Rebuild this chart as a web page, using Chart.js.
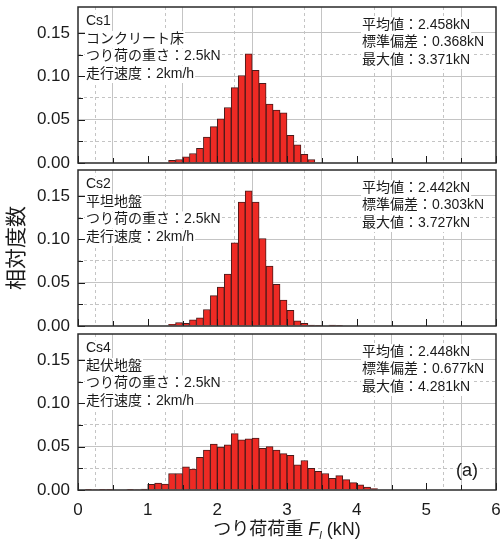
<!DOCTYPE html>
<html>
<head>
<meta charset="utf-8">
<script src="https://cdn.jsdelivr.net/npm/chart.js@4.4.1/dist/chart.umd.min.js"></script>
<style>
  body { margin: 0; background: #fff; }
  #wrap { position: relative; width: 501px; height: 544px; }
  canvas { position: absolute; left: 0; }
</style>
</head>
<body>
<div id="wrap">
  <canvas id="c1" width="501" height="175" style="top:0"></canvas>
  <canvas id="c2" width="501" height="175" style="top:163px"></canvas>
  <canvas id="c3" width="501" height="217" style="top:327px"></canvas>
</div>
<script>
// bin left edges (kN) and relative frequency per 0.1 kN bin
const cs1Bins = [1.3, 1.4, 1.5, 1.6, 1.7, 1.8, 1.9, 2.0, 2.1, 2.2, 2.3, 2.4, 2.5, 2.6, 2.7, 2.8, 2.9, 3.0, 3.1, 3.2, 3.3];
const cs1Freq = [0.003, 0.004, 0.007, 0.011, 0.017, 0.030, 0.042, 0.051, 0.064, 0.087, 0.101, 0.126, 0.107, 0.092, 0.068, 0.061, 0.058, 0.032, 0.021, 0.010, 0.004];

const cs2Bins = [1.3, 1.4, 1.5, 1.6, 1.7, 1.8, 1.9, 2.0, 2.1, 2.2, 2.3, 2.4, 2.5, 2.6, 2.7, 2.8, 2.9, 3.0, 3.1, 3.2, 3.3, 3.4, 3.5, 3.6, 3.7];
const cs2Freq = [0.002, 0.004, 0.003, 0.007, 0.0095, 0.019, 0.035, 0.045, 0.060, 0.096, 0.143, 0.156, 0.143, 0.101, 0.069, 0.048, 0.030, 0.018, 0.006, 0.003, 0.001, 0.0005, null, 0.001, 0.0005];

const cs4Bins = [0.1, 0.2, 0.3, 0.4, 0.5, 0.6, 0.7, 0.8, 0.9, 1.0, 1.1, 1.2, 1.3, 1.4, 1.5, 1.6, 1.7, 1.8, 1.9, 2.0, 2.1,
                 2.2, 2.3, 2.4, 2.5, 2.6, 2.7, 2.8, 2.9, 3.0, 3.1, 3.2, 3.3, 3.4, 3.5, 3.6, 3.7, 3.8, 3.9, 4.0, 4.1, 4.2];
const cs4Freq = [0.0008, 0.0006, 0.0004, 0.0004, null, null, 0.0004, 0.0006, 0.001, 0.0065, 0.008, 0.0068, 0.019, 0.019, 0.0266, 0.024, 0.0378, 0.046, 0.053, 0.0495, 0.052,
                 0.065, 0.058, 0.059, 0.060, 0.048, 0.050, 0.046, 0.042, 0.040, 0.029, 0.034, 0.025, 0.0215, 0.019, 0.0135, 0.0165, 0.012, 0.0085, 0.006, 0.0035, 0.0015];

const cs1Notes = ['Cs1', 'コンクリート床', 'つり荷の重さ：2.5kN', '走行速度：2km/h'];
const cs1Stats = ['平均値：2.458kN', '標準偏差：0.368kN', '最大値：3.371kN'];
const cs2Notes = ['Cs2', '平坦地盤', 'つり荷の重さ：2.5kN', '走行速度：2km/h'];
const cs2Stats = ['平均値：2.442kN', '標準偏差：0.303kN', '最大値：3.727kN'];
const cs4Notes = ['Cs4', '起伏地盤', 'つり荷の重さ：2.5kN', '走行速度：2km/h'];
const cs4Stats = ['平均値：2.448kN', '標準偏差：0.677kN', '最大値：4.281kN'];

const yTitle = '相対度数';
const xTitle = [['つり荷荷重 ', 'n'], ['F', 'i'], ['l', 's'], [' (kN)', 'n']];

const FONT = '"Liberation Sans", "Noto Sans CJK JP", sans-serif';
const GRID = '#c4c4c4';
const NONE = 'rgba(0,0,0,0)';
const INK = '#1a1a1a';
const BIN = 0.1;

const isMult = (v, step) => Math.abs(v / step - Math.round(v / step)) < 1e-6;
const noPad = s => { s.paddingTop = 0; s.paddingBottom = 0; s.paddingLeft = 0; s.paddingRight = 0; };

function panelPlugin(notes, stats, tag, withXTitle) {
  return {
    id: 'panel',
    afterDatasetsDraw(chart) {
      const { ctx, chartArea: a } = chart;
      ctx.save();
      ctx.font = '14px ' + FONT;
      ctx.textBaseline = 'middle';
      const line = (text, x, y) => {
        const w = ctx.measureText(text).width;
        ctx.fillStyle = '#fff';
        ctx.fillRect(x - 1, y - 8, w + 2, 17);
        ctx.fillStyle = INK;
        ctx.fillText(text, x, y);
      };
      notes.forEach((t, i) => line(t, a.left + 8, a.top + 14.5 + i * 17.5));
      stats.forEach((t, i) => line(t, a.right - 134, a.top + 18 + i * 17.5));
      if (tag) {
        ctx.font = '18px ' + FONT;
        ctx.fillText(tag, a.right - 40, a.bottom - 19);
      }

      // inward tick marks
      ctx.strokeStyle = INK;
      ctx.lineWidth = 1;
      const ys = chart.scales.y2, xs = chart.scales.x2;
      ys.ticks.forEach(t => {
        const p = Math.round(ys.getPixelForValue(t.value)) + 0.5;
        const len = isMult(t.value, 0.05) ? 7 : 5;
        ctx.beginPath(); ctx.moveTo(a.left, p); ctx.lineTo(a.left + len, p); ctx.stroke();
      });
      xs.ticks.forEach(t => {
        const p = Math.round(xs.getPixelForValue(t.value)) + 0.5;
        const len = isMult(t.value, 1) ? 7 : 5;
        ctx.beginPath(); ctx.moveTo(p, a.bottom); ctx.lineTo(p, a.bottom - len); ctx.stroke();
      });

      // frame
      ctx.strokeStyle = '#2a2a2a';
      ctx.lineWidth = 1.5;
      ctx.strokeRect(a.left, a.top, a.width, a.height);

      if (withXTitle) {
        const fontOf = k => k === 'i' ? 'italic 18px ' + FONT : k === 's' ? 'italic 11px ' + FONT : '18px ' + FONT;
        let total = 0;
        xTitle.forEach(([s, k]) => { ctx.font = fontOf(k); total += ctx.measureText(s).width; });
        let x = (a.left + a.right) / 2 - total / 2;
        const y = a.bottom + 40;
        ctx.fillStyle = INK;
        ctx.textAlign = 'left';
        xTitle.forEach(([s, k]) => {
          ctx.font = fontOf(k);
          ctx.fillText(s, x, k === 's' ? y + 6 : y);
          x += ctx.measureText(s).width;
        });
      }
      ctx.restore();
    }
  };
}

function makeScales(showX, showYTitle) {
  return {
    x: {
      type: 'linear', min: 0, max: 6, offset: false,
      ticks: { display: showX, stepSize: 1, color: INK, padding: 10, font: { family: FONT, size: 17 } },
      grid: { color: GRID, drawTicks: false },
      border: { display: false },
      afterFit: s => { s.height = showX ? 54 : 0; noPad(s); }
    },
    x2: {
      type: 'linear', position: 'bottom', min: 0, max: 6, offset: false,
      ticks: { display: false, stepSize: 0.5 },
      grid: { color: c => (c.tick && isMult(c.tick.value, 1)) ? NONE : GRID, drawTicks: false },
      border: { display: false, dash: [3, 3] },
      afterFit: s => { s.height = 0; noPad(s); }
    },
    y: {
      min: 0, max: 0.18,
      ticks: { stepSize: 0.05, color: INK, padding: 8, font: { family: FONT, size: 17 }, callback: v => v.toFixed(2) },
      afterBuildTicks: s => { s.ticks = s.ticks.filter(t => t.value < 0.176); },
      grid: { color: c => (c.tick && c.tick.value === 0) ? NONE : GRID, drawTicks: false },
      border: { display: false },
      title: { display: showYTitle, text: yTitle, color: INK, font: { family: FONT, size: 21 }, padding: { top: 5, bottom: 0 } },
      afterFit: s => { s.width = 78; noPad(s); }
    },
    y2: {
      type: 'linear', position: 'left', min: 0, max: 0.18,
      ticks: { display: false, stepSize: 0.025 },
      afterBuildTicks: s => { s.ticks = s.ticks.filter(t => t.value < 0.176); },
      grid: { color: c => (c.tick && isMult(c.tick.value, 0.05)) ? NONE : GRID, drawTicks: false },
      border: { display: false, dash: [3, 3] },
      afterFit: s => { s.width = 0; noPad(s); }
    }
  };
}

function makeChart(id, bins, freq, notes, stats, opt) {
  return new Chart(document.getElementById(id), {
    type: 'bar',
    data: {
      datasets: [{
        data: bins.map((b, i) => ({ x: b + BIN / 2, y: freq[i] })),
        backgroundColor: '#ee2a24',
        borderColor: '#4a1a1a',
        borderWidth: 1,
        barPercentage: 1,
        categoryPercentage: 1,
        xAxisID: 'x',
        yAxisID: 'y'
      }]
    },
    options: {
      responsive: false,
      animation: false,
      layout: { padding: opt.padding },
      plugins: { legend: { display: false }, tooltip: { enabled: false } },
      scales: makeScales(opt.showX, opt.showYTitle)
    },
    plugins: [panelPlugin(notes, stats, opt.tag, opt.showX)]
  });
}

makeChart('c1', cs1Bins, cs1Freq, cs1Notes, cs1Stats,
  { padding: { left: 0, right: 5, top: 7, bottom: 12 }, showX: false, showYTitle: false });
makeChart('c2', cs2Bins, cs2Freq, cs2Notes, cs2Stats,
  { padding: { left: 0, right: 5, top: 7, bottom: 12 }, showX: false, showYTitle: true });
makeChart('c3', cs4Bins, cs4Freq, cs4Notes, cs4Stats,
  { padding: { left: 0, right: 5, top: 7, bottom: 0 }, showX: true, showYTitle: false, tag: '(a)' });
</script>
</body>
</html>
